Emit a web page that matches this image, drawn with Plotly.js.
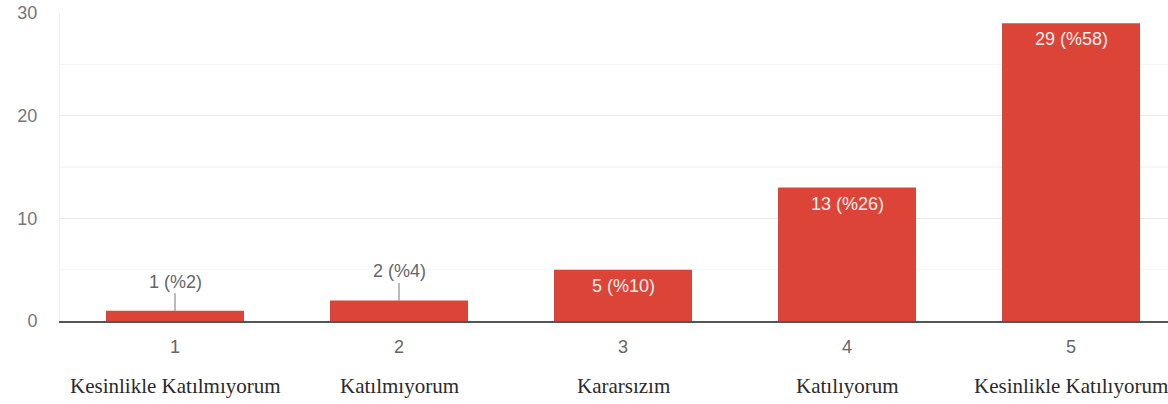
<!DOCTYPE html>
<html>
<head>
<meta charset="utf-8">
<script src="https://cdn.plot.ly/plotly-3.0.1.min.js"></script>
<style>html,body{margin:0;padding:0;background:#fff;}#chart{width:1168px;height:404px;}</style>
</head>
<body>
<div id="chart"></div>
<script>
const xValues = [1, 2, 3, 4, 5];
const counts = [1, 2, 5, 13, 29];
const percents = [2, 4, 10, 26, 58];
const categoryNames = ["Kesinlikle Katılmıyorum", "Katılmıyorum", "Kararsızım", "Katılıyorum", "Kesinlikle Katılıyorum"];
const yTicks = [0, 10, 20, 30];

const barColor = '#db4437';
const labels = counts.map((c, i) => c + ' (%' + percents[i] + ')');

const annotations = [];
counts.forEach((c, i) => {
  if (c < 5) {
    annotations.push({
      x: xValues[i], y: c, xref: 'x', yref: 'y',
      text: labels[i], showarrow: true, arrowhead: 0, arrowwidth: 1,
      arrowcolor: '#777', ax: 0, ay: -29,
      font: {family: 'Liberation Sans, Arial, sans-serif', size: 18, color: '#666'}
    });
  } else {
    annotations.push({
      x: xValues[i], y: c, xref: 'x', yref: 'y',
      text: labels[i], showarrow: false, yanchor: 'middle', yshift: -16,
      font: {family: 'Liberation Sans, Arial, sans-serif', size: 18, color: '#fdf0ee'}
    });
  }
});
categoryNames.forEach((name, i) => {
  annotations.push({
    x: xValues[i], y: 0, xref: 'x', yref: 'paper', yanchor: 'middle',
    yshift: -65, text: name, showarrow: false,
    font: {family: 'Liberation Serif, Times New Roman, serif', size: 21, color: '#2a2a2a'}
  });
});

const trace = {
  type: 'bar', x: xValues, y: counts, width: 0.616,
  marker: {color: barColor}, hoverinfo: 'none'
};

const layout = {
  width: 1168, height: 404,
  margin: {l: 60, r: 0, t: 13, b: 83},
  paper_bgcolor: '#fff', plot_bgcolor: '#fff',
  showlegend: false,
  xaxis: {
    range: [0.4866, 5.433], tickvals: xValues, ticktext: xValues.map(String),
    showgrid: false, zeroline: false, showline: true, linecolor: '#555', linewidth: 2,
    ticks: '', ticklabelstandoff: 8,
    tickfont: {family: 'Liberation Sans, Arial, sans-serif', size: 18, color: '#666'}
  },
  yaxis: {
    range: [0, 30], tickvals: yTicks, ticks: '', ticklabelstandoff: 18,
    showgrid: true, gridcolor: '#ebebeb', gridwidth: 1.5,
    minor: {dtick: 5, showgrid: true, gridcolor: '#f6f6f6', gridwidth: 1.5},
    zeroline: false, showline: true, linecolor: '#efefef', linewidth: 1,
    tickfont: {family: 'Liberation Sans, Arial, sans-serif', size: 18, color: '#777'}
  },
  annotations: annotations
};

Plotly.newPlot('chart', [trace], layout, {displayModeBar: false, staticPlot: true});
</script>
</body>
</html>
